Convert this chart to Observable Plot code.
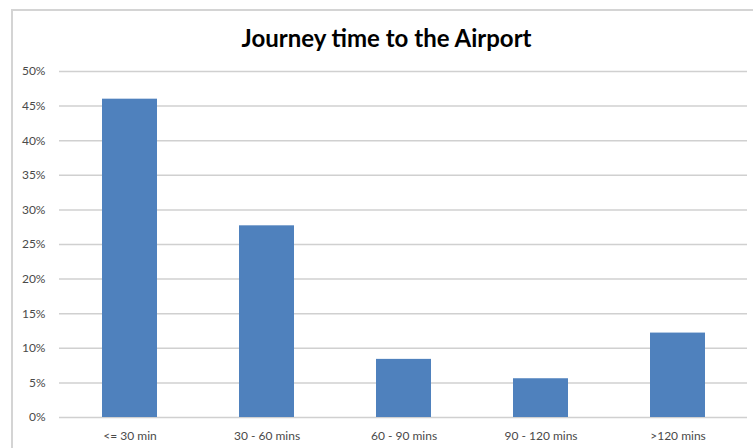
<!DOCTYPE html>
<html>
<head>
<meta charset="utf-8">
<script src="https://cdn.jsdelivr.net/npm/d3@7"></script>
<script src="https://cdn.jsdelivr.net/npm/@observablehq/plot@0.6"></script>
<style>
  html, body { margin: 0; padding: 0; background: #fff; width: 753px; height: 448px; overflow: hidden; }
  #frame { position: absolute; left: 11px; top: 9px; width: 800px; height: 500px; border: 2px solid #d4d4d4; box-sizing: border-box; }
  #title { position: absolute; left: 0; top: 23px; width: 773px; text-align: center; font-family: Lato, "Liberation Sans", sans-serif; font-weight: bold; font-size: 24px; color: #000; line-height: 30px; }
  #chart { position: absolute; left: 0; top: 50px; }
</style>
</head>
<body>
<div id="frame"></div>
<div id="title">Journey time to the Airport</div>
<div id="chart"></div>
<script>
const categories = ["<= 30 min", "30 - 60 mins", "60 - 90 mins", "90 - 120 mins", ">120 mins"];
const values = [46.0, 27.7, 8.4, 5.6, 12.2];
const yTicks = [0, 5, 10, 15, 20, 25, 30, 35, 40, 45, 50];

const data = categories.map((c, i) => ({category: c, value: values[i]}));

const plot = Plot.plot({
  width: 753,
  height: 398,
  marginLeft: 59,
  marginRight: 6,
  marginTop: 21,
  marginBottom: 31,
  style: { fontFamily: "Lato, 'Liberation Sans', sans-serif", fontSize: "12px", color: "#4a4a4a", background: "transparent" },
  x: { domain: categories, paddingInner: 0.6, paddingOuter: 0.3, label: null },
  y: { domain: [0, 50], label: null },
  marks: [
    Plot.ruleY(yTicks, { stroke: "#d0d0d0", strokeWidth: 1.5 }),
    Plot.barY(data, { x: "category", y: "value", fill: "#4f81bd" }),
    Plot.axisY({ ticks: yTicks, tickFormat: d => d + "%", tickSize: 0, tickPadding: 14, label: null }),
    Plot.axisX({ tickSize: 0, tickPadding: 14, label: null })
  ]
});
document.getElementById("chart").appendChild(plot);
</script>
</body>
</html>
